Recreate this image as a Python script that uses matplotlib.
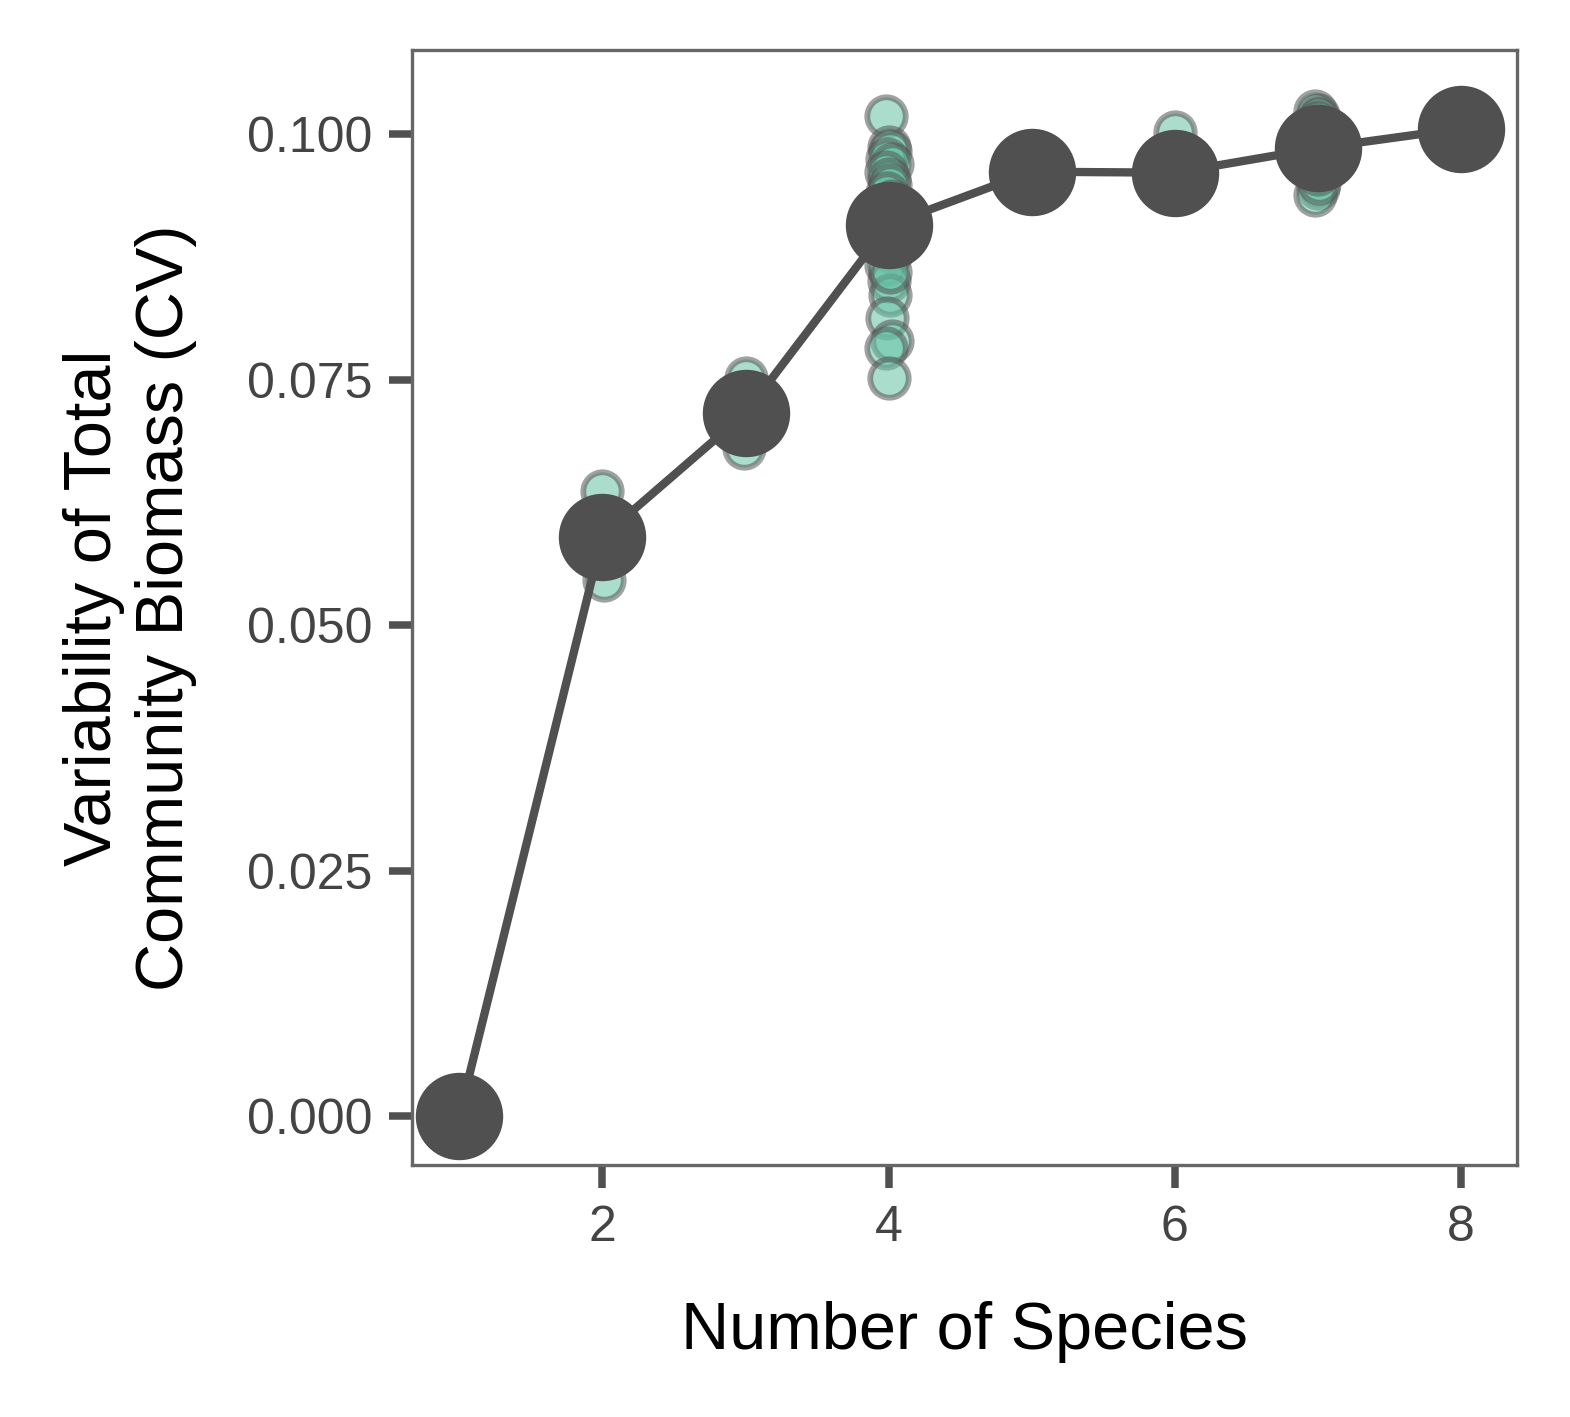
import matplotlib
matplotlib.use("Agg")
import matplotlib.pyplot as plt

plt.rcParams['font.family'] = ['Liberation Sans', 'DejaVu Sans']

mean_x = [1, 2, 3, 4, 5, 6, 7, 8]
mean_y = [0.0, 0.0590, 0.0716, 0.0908, 0.0962, 0.0961, 0.0986, 0.1006]

pts_x = ([2.00, 2.01, 1.99, 2.00] +
         [3.00, 2.99, 3.01, 3.00, 2.98] +
         [3.98, 4.00, 4.01, 3.99, 4.02, 3.98, 4.00, 4.01, 3.99, 4.02, 3.97, 4.00,
          4.01, 3.99, 4.02, 3.98, 4.00, 4.01, 3.99, 4.02, 3.98, 4.00, 4.01, 3.99] +
         [5.00, 4.99, 5.01] +
         [6.00, 5.99, 6.01, 6.00] +
         [6.98, 7.00, 7.01, 6.99, 7.02, 7.00, 6.98, 7.01, 7.00, 6.99] +
         [8.00, 7.99, 8.01])
pts_y = ([0.0637, 0.0546, 0.0590, 0.0605] +
         [0.0752, 0.0681, 0.0716, 0.0735, 0.0700] +
         [0.1019, 0.0987, 0.0983, 0.0975, 0.0970, 0.0962, 0.0955, 0.0948, 0.0940, 0.0932,
          0.0925, 0.0915, 0.0905, 0.0895, 0.0880, 0.0867, 0.0851, 0.0836, 0.0813, 0.0790,
          0.0782, 0.0752, 0.0860, 0.0900] +
         [0.0962, 0.0950, 0.0972] +
         [0.1002, 0.0945, 0.0960, 0.0970] +
         [0.1024, 0.1020, 0.1016, 0.1012, 0.1008, 0.0945, 0.0938, 0.0950, 0.0960, 0.0990] +
         [0.1026, 0.0985, 0.1005])

fig = plt.figure(figsize=(1570/300, 1417/300), dpi=300)
ax = fig.add_axes([412/1570, 1-1165/1417, 1105/1570, 1115/1417])

ax.scatter(pts_x, pts_y, s=85, facecolor='#66c2a5', alpha=0.55,
           edgecolor='#555555', linewidth=1.4, zorder=2)
ax.plot(mean_x, mean_y, color='#505050', lw=2.0, zorder=3)
ax.scatter(mean_x, mean_y, s=440, color='#505050', zorder=4, linewidth=0)

ax.set_xlim(0.67, 8.39)
ax.set_ylim(-0.0050, 0.1086)
ax.set_xticks([2, 4, 6, 8])
ax.set_yticks([0, 0.025, 0.05, 0.075, 0.1])
ax.set_yticklabels(['0.000', '0.025', '0.050', '0.075', '0.100'])
for s in ax.spines.values():
    s.set_color('#666666'); s.set_linewidth(0.8)
ax.tick_params(length=5.5, width=1.8, color='#505050', labelcolor='#444444', labelsize=12, pad=4)
ax.set_xlabel('Number of Species', fontsize=16, labelpad=12)
ax.set_ylabel('Variability of Total\nCommunity Biomass (CV)', fontsize=16, labelpad=12)
fig.savefig('out.png', dpi=300)
